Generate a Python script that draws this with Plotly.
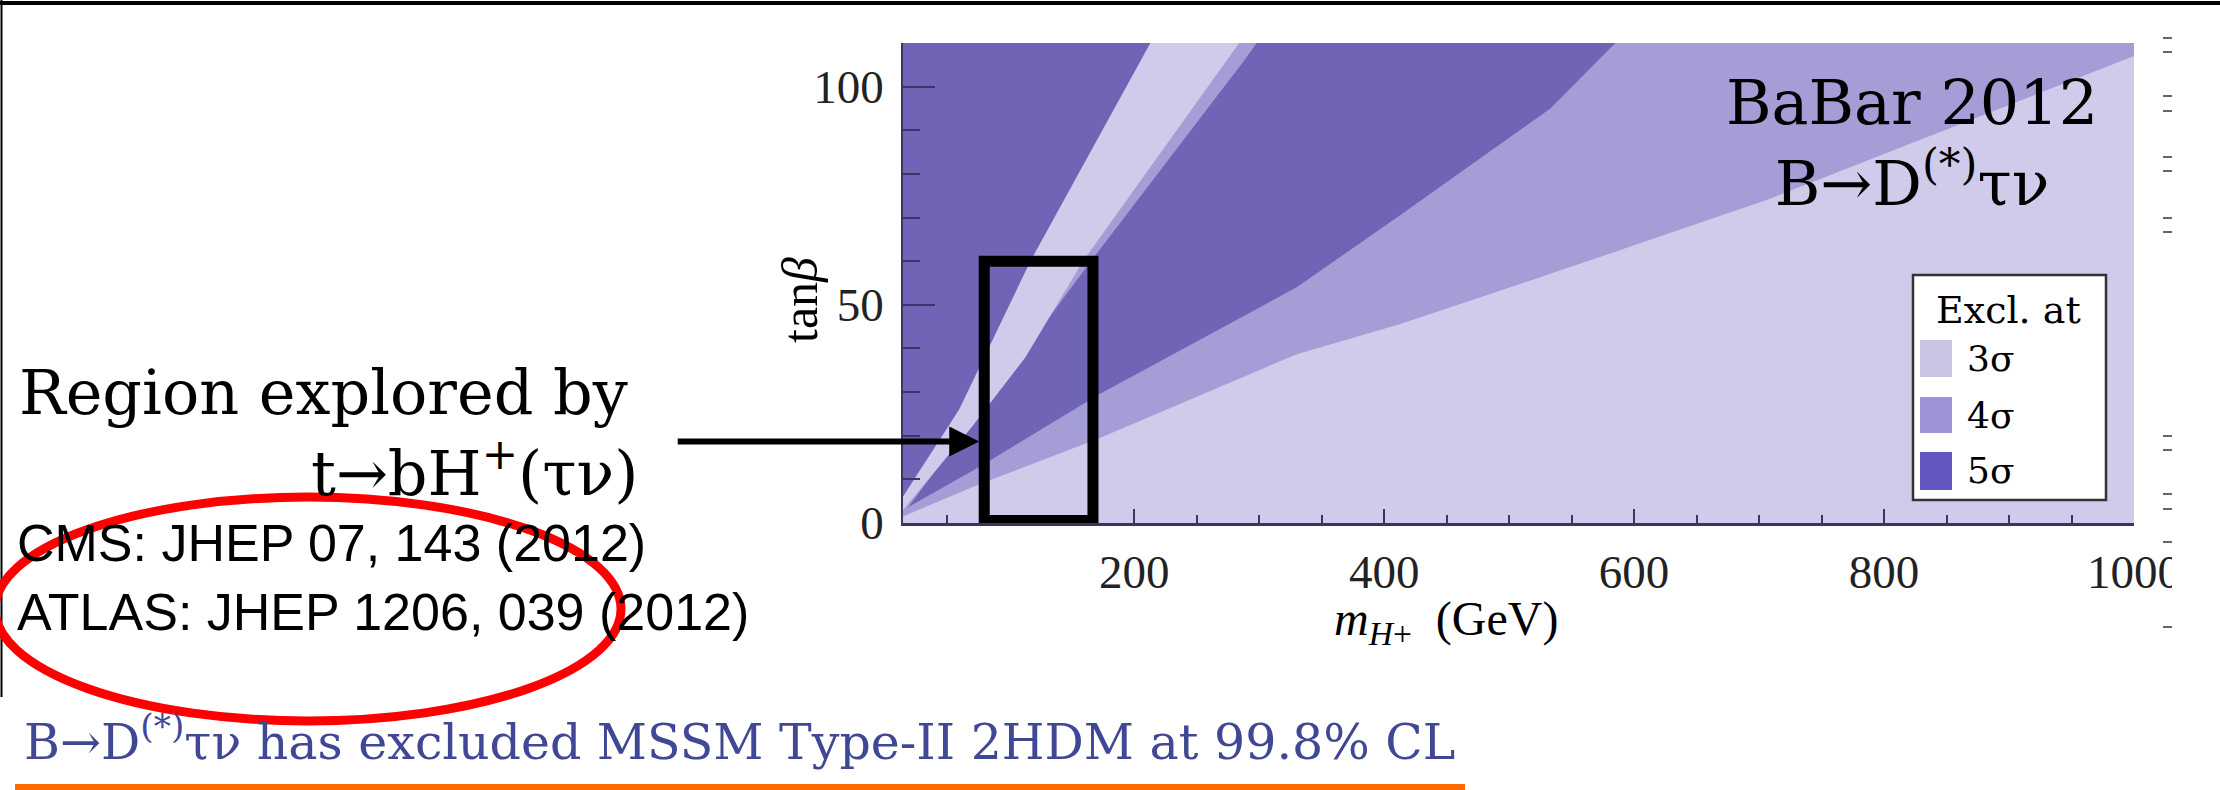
import plotly.graph_objects as go

W, H = 2220, 790

# ---------------- data ----------------
X_RANGE = [15, 1000]          # m_H+ (GeV)
Y_RANGE = [0, 110]            # tan(beta)
x_tickvals = [200, 400, 600, 800, 1000]
y_tickvals = [0, 50, 100]

# upper edge of the 3-sigma (lightest) region at the bottom right
mh_3s_edge = [15, 77, 172, 330, 413, 533, 706, 1000]
tb_3s_edge = [1.5, 9, 19.4, 38.7, 45.6, 57.1, 74, 107]

# upper edge of the 4-sigma band (above it: 5-sigma)
mh_4s_edge = [15, 77, 172, 330, 415, 533, 585]
tb_4s_edge = [3, 13, 29.5, 54, 71, 95, 110]

# light (3-sigma) strip inside the 5-sigma region
strip_mh_left = [15, 60, 117, 205, 213]
strip_tb_left = [6, 26, 60, 106, 110]
strip_mh_right = [15, 70, 113, 159, 274, 284]
strip_tb_right = [3, 22, 38, 60, 106, 110]
# thin 4-sigma sliver on the right of the strip
sliver_mh_right = [15, 168, 288, 298]
sliver_tb_right = [2, 61, 106, 110]

# box of the region explored by t->bH+(tau nu)
box_mh = [80, 167]
box_tb = [0.6, 60]

sigma_labels = ["3σ", "4σ", "5σ"]

# ---------------- styles ----------------
C_DARK = "#7064b6"
C_MED = "#a59dd6"
C_LIGHT = "#d0cbea"
SW_COLORS = ["#c9c3e4", "#9d94d6", "#6458c0"]
AXC = "#3b3466"
SERIF = "DejaVu Serif"
TIMES = "Liberation Serif"


def px(xp):
    return xp / W


def py(yp):
    return 1 - yp / H


fig = go.Figure()


def poly(xs, ys, color, name):
    fig.add_trace(go.Scatter(x=xs, y=ys, fill="toself", fillcolor=color, mode="lines",
                             line=dict(width=0, color=color), name=name,
                             hoverinfo="skip", showlegend=False))


# 5 sigma: whole plane
poly([X_RANGE[0], X_RANGE[1], X_RANGE[1], X_RANGE[0]],
     [Y_RANGE[0], Y_RANGE[0], Y_RANGE[1], Y_RANGE[1]], C_DARK, "5σ")
# 4 sigma below its edge
poly([X_RANGE[0]] + mh_4s_edge + [X_RANGE[1], X_RANGE[1]],
     [Y_RANGE[0]] + tb_4s_edge + [Y_RANGE[1], Y_RANGE[0]], C_MED, "4σ")
# 4 sigma sliver
poly(strip_mh_left + sliver_mh_right[::-1], strip_tb_left + sliver_tb_right[::-1], C_MED, "4σ")
# 3 sigma strip
poly(strip_mh_left + strip_mh_right[::-1], strip_tb_left + strip_tb_right[::-1], C_LIGHT, "3σ")
# 3 sigma below its edge
poly([X_RANGE[0]] + mh_3s_edge + [X_RANGE[1]],
     [Y_RANGE[0]] + tb_3s_edge + [Y_RANGE[0]], C_LIGHT, "3σ")

# ---------------- axes ----------------
fig.update_xaxes(range=X_RANGE, domain=[903 / W, 2134 / W], showgrid=False, zeroline=False,
                 ticks="inside", tickvals=x_tickvals, ticklen=14, tickwidth=2, tickcolor=AXC,
                 minor=dict(dtick=50, ticklen=8, tickwidth=2, tickcolor=AXC, ticks="inside"),
                 showline=True, linecolor=AXC, linewidth=3, automargin=False,
                 tickfont=dict(family=TIMES, size=47, color="#222222"), ticklabelstandoff=6)
fig.update_yaxes(range=Y_RANGE, domain=[(H - 523) / H, (H - 43) / H], showgrid=False, zeroline=False,
                 ticks="inside", tickvals=y_tickvals, ticklen=32, tickwidth=2, tickcolor=AXC,
                 minor=dict(dtick=10, ticklen=17, tickwidth=2, tickcolor=AXC, ticks="inside"),
                 showline=True, linecolor=AXC, linewidth=1.5, automargin=False,
                 tickfont=dict(family=TIMES, size=47, color="#222222"), ticklabelstandoff=8)

shapes = []
# box on the plot
shapes.append(dict(type="rect", xref="x", yref="y", x0=box_mh[0], x1=box_mh[1], y0=box_tb[0], y1=box_tb[1],
                   line=dict(color="black", width=11), layer="above"))
# top frame line and left frame line
shapes.append(dict(type="line", xref="paper", yref="paper", x0=0, x1=1, y0=py(3), y1=py(3),
                   line=dict(color="black", width=4)))
shapes.append(dict(type="line", xref="paper", yref="paper", x0=px(1.5), x1=px(1.5), y0=py(0), y1=py(697),
                   line=dict(color="black", width=2)))
# legend box
shapes.append(dict(type="rect", xref="paper", yref="paper", x0=px(1913), x1=px(2106), y0=py(275), y1=py(500),
                   fillcolor="white", line=dict(color="#333333", width=2.5), layer="above"))
sw_y = [(340, 377), (397, 433), (452, 490)]
for (a, b), c in zip(sw_y, SW_COLORS):
    shapes.append(dict(type="rect", xref="paper", yref="paper", x0=px(1920), x1=px(1952), y0=py(a), y1=py(b),
                       fillcolor=c, line=dict(width=0), layer="above"))
# red ellipse
shapes.append(dict(type="circle", xref="paper", yref="paper", x0=px(-5), x1=px(621), y0=py(497), y1=py(721),
                   line=dict(color="#ff0000", width=9), layer="above"))
# orange underline
shapes.append(dict(type="rect", xref="paper", yref="paper", x0=px(15), x1=px(1465), y0=py(784), y1=py(790),
                   fillcolor="#ff6a00", line=dict(width=0)))
# white strip at the right edge (the last tick label is cut there)
shapes.append(dict(type="rect", xref="paper", yref="paper", x0=px(2172), x1=1, y0=py(530), y1=py(600),
                   fillcolor="white", line=dict(width=0), layer="above"))
# right-side stray dashes
for yy in [38, 52, 96, 111, 157, 171, 218, 232, 436, 450, 494, 509, 542, 627]:
    shapes.append(dict(type="line", xref="paper", yref="paper", x0=px(2163), x1=px(2172), y0=py(yy), y1=py(yy),
                       line=dict(color="#666666", width=2), layer="above"))

ann = []


def text(t, x, y, size, family=SERIF, color="black", xa="left", ya="middle", angle=0, align="left"):
    ann.append(dict(text=t, x=px(x), y=py(y), xref="paper", yref="paper", showarrow=False,
                    xanchor=xa, yanchor=ya, textangle=angle, align=align,
                    font=dict(family=family, size=size, color=color)))


text("BaBar 2012<br>B→D<sup>(*)</sup>τν", 1912, 143, 62, xa="center", align="center")
text("Excl. at", 2008, 310, 38, xa="center")
for lab, (a, b) in zip(sigma_labels, sw_y):
    text(lab, 1965, (a + b) / 2, 36)
text("Region explored by", 17, 392, 62)
text("t→bH<sup>+</sup>(τν)", 640, 470, 62, xa="right")
text("CMS: JHEP 07, 143 (2012)", 15, 543, 52, family="Liberation Sans")
text("ATLAS: JHEP 1206, 039 (2012)", 15, 612, 52, family="Liberation Sans")
text("B→D<sup>(*)</sup>τν has excluded MSSM Type-II 2HDM at 99.8% CL", 22, 738, 49, color="#404896")
text("<i>m</i><sub><i>H</i>+</sub>  (GeV)", 1446, 622, 48, family=TIMES, xa="center")
text("tan<i>β</i>", 800, 300, 50, family=TIMES, xa="center", angle=-90)

# arrow
ann.append(dict(x=76, y=18.7, xref="x", yref="y", ax=-303, ay=0, axref="pixel", ayref="pixel",
                showarrow=True, arrowhead=2, arrowsize=1.0, arrowwidth=6, arrowcolor="black",
                standoff=0, text=""))

fig.update_layout(width=W, height=H, margin=dict(l=0, r=0, t=0, b=0, pad=0, autoexpand=False),
                  paper_bgcolor="white", plot_bgcolor="white", showlegend=False,
                  shapes=shapes, annotations=ann)

fig.write_html("out.html", config={"displayModeBar": False},
               post_script="document.body.style.margin='0px';document.body.style.overflow='hidden';")
